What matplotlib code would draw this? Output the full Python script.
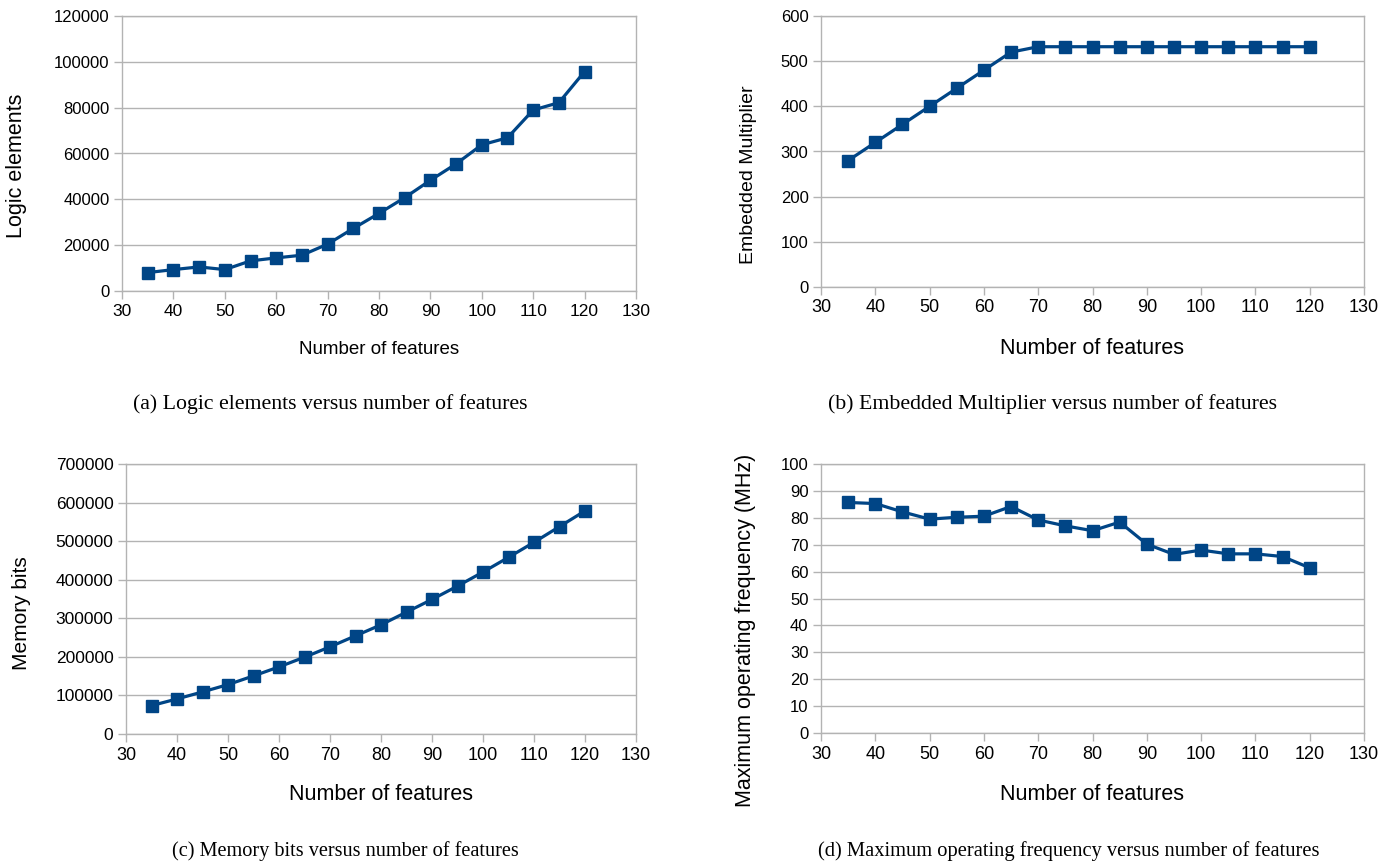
import matplotlib.pyplot as plt

# data
features = [35, 40, 45, 50, 55, 60, 65, 70, 75, 80, 85, 90, 95, 100, 105, 110, 115, 120]
logic_elements = [8030, 9340, 10510, 9340, 13140, 14450, 15620, 20440, 27300, 33870,
                  40730, 48320, 55470, 63800, 66860, 78980, 82190, 95770]
multipliers = [280, 320, 360, 400, 440, 480, 520, 532, 532, 532, 532, 532, 532, 532,
               532, 532, 532, 532]
memory_bits = [73600, 90900, 109100, 128100, 150600, 174000, 199100, 226000, 254500, 283100,
               316000, 348900, 383500, 419900, 458000, 497000, 537700, 578400]
fmax = [85.7, 85.3, 82.2, 79.5, 80.2, 80.6, 84.2, 79.2, 77.0, 75.2, 78.4, 70.2, 66.4,
        68.0, 66.6, 66.6, 65.6, 61.4]

x_ticks = list(range(30, 131, 10))

W, H = 1398, 863
BLUE = '#004586'
GREY = '#b3b3b3'

plt.rcParams['font.family'] = ['Liberation Sans', 'DejaVu Sans']
fig = plt.figure(figsize=(W / 100, H / 100), dpi=100)


def make_axes(l, r, t, b):
    return fig.add_axes([l / W, 1 - b / H, (r - l) / W, (b - t) / H])


def panel(ax, y, ymax, ystep, ylabel, ytick_fs, xtick_fs, xlab_fs, ylab_fs,
          ylab_pos, xlab_y, box):
    l, r, t, b = box
    ax.plot(features, y, color=BLUE, lw=2.3, marker='s', ms=9, zorder=3)
    ax.set_xlim(30, 130)
    ax.set_ylim(0, ymax)
    ax.set_xticks(x_ticks)
    ax.set_yticks(range(0, ymax + 1, ystep))
    ax.grid(axis='y', color=GREY, lw=1)
    ax.set_axisbelow(True)
    for s in ax.spines.values():
        s.set_color(GREY)
        s.set_linewidth(1)
    ax.tick_params(direction='out', length=6, width=1, color=GREY, pad=3)
    ax.tick_params(axis='y', labelsize=ytick_fs)
    ax.tick_params(axis='x', labelsize=xtick_fs)
    ax.set_xlabel('Number of features', fontsize=xlab_fs)
    ax.set_ylabel(ylabel, fontsize=ylab_fs)
    # label positions given in pixels (right edge / centre of ylabel, top of xlabel)
    ax.yaxis.set_label_coords((ylab_pos[0] - l) / (r - l), (b - ylab_pos[1]) / (b - t))
    ax.xaxis.set_label_coords(0.5, (b - xlab_y) / (b - t))


box1 = (122, 636, 16, 291)
ax1 = make_axes(*box1)
panel(ax1, logic_elements, 120000, 20000, 'Logic elements', 12, 12.5, 13.5, 15.5,
      (27, 166), 341, box1)

box2 = (821, 1364, 16, 287)
ax2 = make_axes(*box2)
panel(ax2, multipliers, 600, 100, 'Embedded Multiplier', 12, 13, 15.5, 14,
      (757, 175), 338, box2)

box3 = (126, 636, 464, 734)
ax3 = make_axes(*box3)
panel(ax3, memory_bits, 700000, 100000, 'Memory bits', 12.5, 13, 15.5, 15,
      (31, 613), 784, box3)

box4 = (821, 1364, 464, 733)
ax4 = make_axes(*box4)
panel(ax4, fmax, 100, 10, 'Maximum operating frequency (MHz)', 12, 13, 15.5, 15.5,
      (756, 630), 784, box4)

captions = [('(a) Logic elements versus number of features', 330, 404, 15.7),
            ('(b) Embedded Multiplier versus number of features', 1053, 404, 15.7),
            ('(c) Memory bits versus number of features', 345, 851, 14.6),
            ('(d) Maximum operating frequency versus number of features', 1069, 851, 14.8)]
for txt, cx, cy, fs in captions:
    fig.text(cx / W, 1 - cy / H, txt, ha='center', va='center', fontsize=fs,
             family=['Liberation Serif', 'DejaVu Serif'])

fig.savefig('out.png', dpi=100)
